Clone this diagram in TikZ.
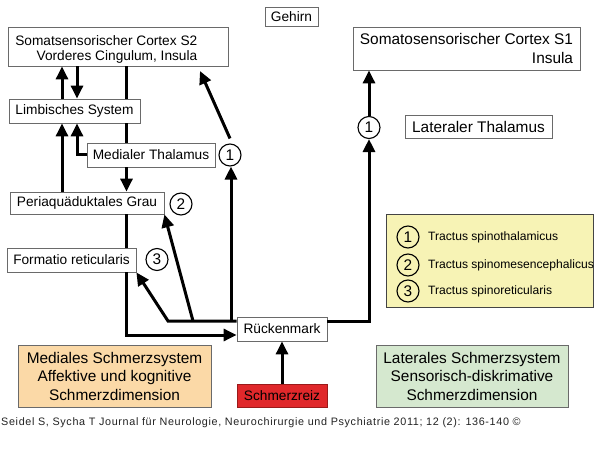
\documentclass[tikz,border=0pt]{standalone}
\usepackage{fontspec}
\setmainfont{Liberation Sans}
\newfontfamily\quellfont[LetterSpace=6]{Liberation Sans}
\usetikzlibrary{arrows.meta,calc}

\definecolor{rahmen}{HTML}{6A6A6A}
\definecolor{orangefill}{HTML}{FBD9A7}
\definecolor{gruenfill}{HTML}{D5E8CF}
\definecolor{gelbfill}{HTML}{F7F3B5}
\definecolor{legrand}{HTML}{444444}
\definecolor{reizrot}{HTML}{E0282B}
\definecolor{reizrand}{HTML}{9A1A1A}
\definecolor{quellgrau}{HTML}{222222}

\newcommand\fsmain{\fontsize{13.7}{15}\selectfont}
\newcommand\fsbig{\fontsize{15.4}{18.5}\selectfont}
\newcommand\fssmall{\fontsize{12.1}{13}\selectfont}
\newcommand\fscap{\quellfont\fontsize{10.8}{12}\selectfont}

\tikzset{
  box/.style={draw=rahmen, fill=white, line width=0.8pt, inner sep=0pt, font=\fsmain},
  nr/.style={draw, circle, line width=1.1pt, minimum size=22pt, inner sep=0pt, font=\fsbig},
  linie/.style={line width=3pt},
  pfeil/.style={line width=3pt, -{Triangle[length=13pt,width=12pt]}},
}

\begin{document}
\begin{tikzpicture}[x=1pt,y=-1pt]
  \useasboundingbox (0,0) rectangle (600,473);
  % boxes
  \node[box, minimum width=53pt, minimum height=19pt] (gehirn) at (291.5,16.5) {Gehirn};
  \node[box, minimum width=220pt, minimum height=39pt] (s2) at (118,46.5) {};
  \node[align=right, anchor=east, inner sep=0pt, font=\fsmain] (s2text) at (197.5,49) {Somatsensorischer Cortex S2\\Vorderes Cingulum, Insula};
  \node[box, minimum width=131pt, minimum height=24pt] (limb) at (74.5,111) {Limbisches System};
  \node[box, minimum width=128pt, minimum height=24pt] (medthal) at (151,155) {Medialer Thalamus};
  \node[nr] (m1) at (230,155) {1};
  \node[box, minimum width=154pt, minimum height=22pt] (grau) at (87,203) {Periaquäduktales Grau};
  \node[nr] (m2) at (181,204) {2};
  \node[box, minimum width=129pt, minimum height=24pt] (form) at (71.5,260) {Formatio reticularis};
  \node[nr] (m3) at (157,259.5) {3};
  \node[box, minimum width=90pt, minimum height=24pt] (rueck) at (282,329) {Rückenmark};
  \node[box, draw=reizrand, fill=reizrot, minimum width=90pt, minimum height=23pt] (reiz) at (282,395.5) {Schmerzreiz};
  \node[box, fill=orangefill, font=\fsbig, align=center, minimum width=193pt, minimum height=62pt] (medsys) at (114.5,376) {Mediales Schmerzsystem\\Affektive und kognitive\\Schmerzdimension};
  \node[box, fill=gruenfill, font=\fsbig, align=center, minimum width=192pt, minimum height=62pt] (latsys) at (472,376) {Laterales Schmerzsystem\\Sensorisch-diskrimative\\Schmerzdimension};
  \node[box, font=\fsbig, align=right, minimum width=227pt, minimum height=43pt] (s1) at (466.5,48.5) {Somatosensorischer Cortex S1\\Insula};
  \node[box, font=\fsbig, minimum width=147pt, minimum height=23pt] (latthal) at (478.5,126.5) {Lateraler Thalamus};
  \node[nr] (l1) at (369,127.5) {1};
  % legend
  \node[box, draw=legrand, fill=gelbfill, minimum width=207pt, minimum height=93pt] (legende) at (489.5,260.5) {};
  \foreach \n/\t/\y in {1/Tractus spinothalamicus/237, 2/Tractus spinomesencephalicus/265, 3/Tractus spinoreticularis/291} {
    \node[nr] (leg\n) at (408,\y) {\n};
    \node[anchor=west, inner sep=0pt, font=\fssmall] (legtext\n) at (428,\y) {\t};
  }
  \node[anchor=west, inner sep=0pt, font=\fscap, text=quellgrau] (quelle) at (1,423) {Seidel S, Sycha T Journal für Neurologie, Neurochirurgie und Psychiatrie 2011; 12 (2): 136-140 ©};
  % connectors
  \coordinate (xa) at (62,0);
  \coordinate (xb) at (77,0);
  \coordinate (xc) at (126.5,0);
  \coordinate (knickF) at (168,321);
  \coordinate (abzweigG) at (193,321);
  \coordinate (abzweigT) at (231,321);
  \coordinate (s2ziel) at (200,71);
  \draw[pfeil] (limb.north -| xa) -- (s2.south -| xa);
  \draw[pfeil] (s2.south -| xb) -- (limb.north -| xb);
  \draw[pfeil] (grau.north -| xa) -- (limb.south -| xa);
  \draw[pfeil] (medthal.west) -| (limb.south -| xb);
  \draw[linie] (s2.south -| xc) -- (limb.north -| xc);
  \draw[linie] (limb.south -| xc) -- (medthal.north -| xc);
  \draw[pfeil] (medthal.south -| xc) -- (grau.north -| xc);
  \draw[linie] (grau.south -| xc) -- (form.north -| xc);
  \draw[pfeil] (form.south -| xc) |- ([yshift=-6pt]rueck.west);
  \draw[pfeil] ([yshift=8pt]rueck.west) -- (knickF) -- (form.south east);
  \draw[pfeil] (abzweigG) -- (grau.south east);
  \draw[pfeil] (abzweigT) -- (abzweigT |- m1.south);
  \draw[pfeil] ([yshift=5pt]m1.north) -- (s2ziel);
  \draw[pfeil] ([yshift=8pt]rueck.east) -| (l1.south);
  \draw[pfeil] (l1.north) -- (s1.south -| l1.north);
  \draw[pfeil] (reiz.north) -- (rueck.south);
\end{tikzpicture}
\end{document}
